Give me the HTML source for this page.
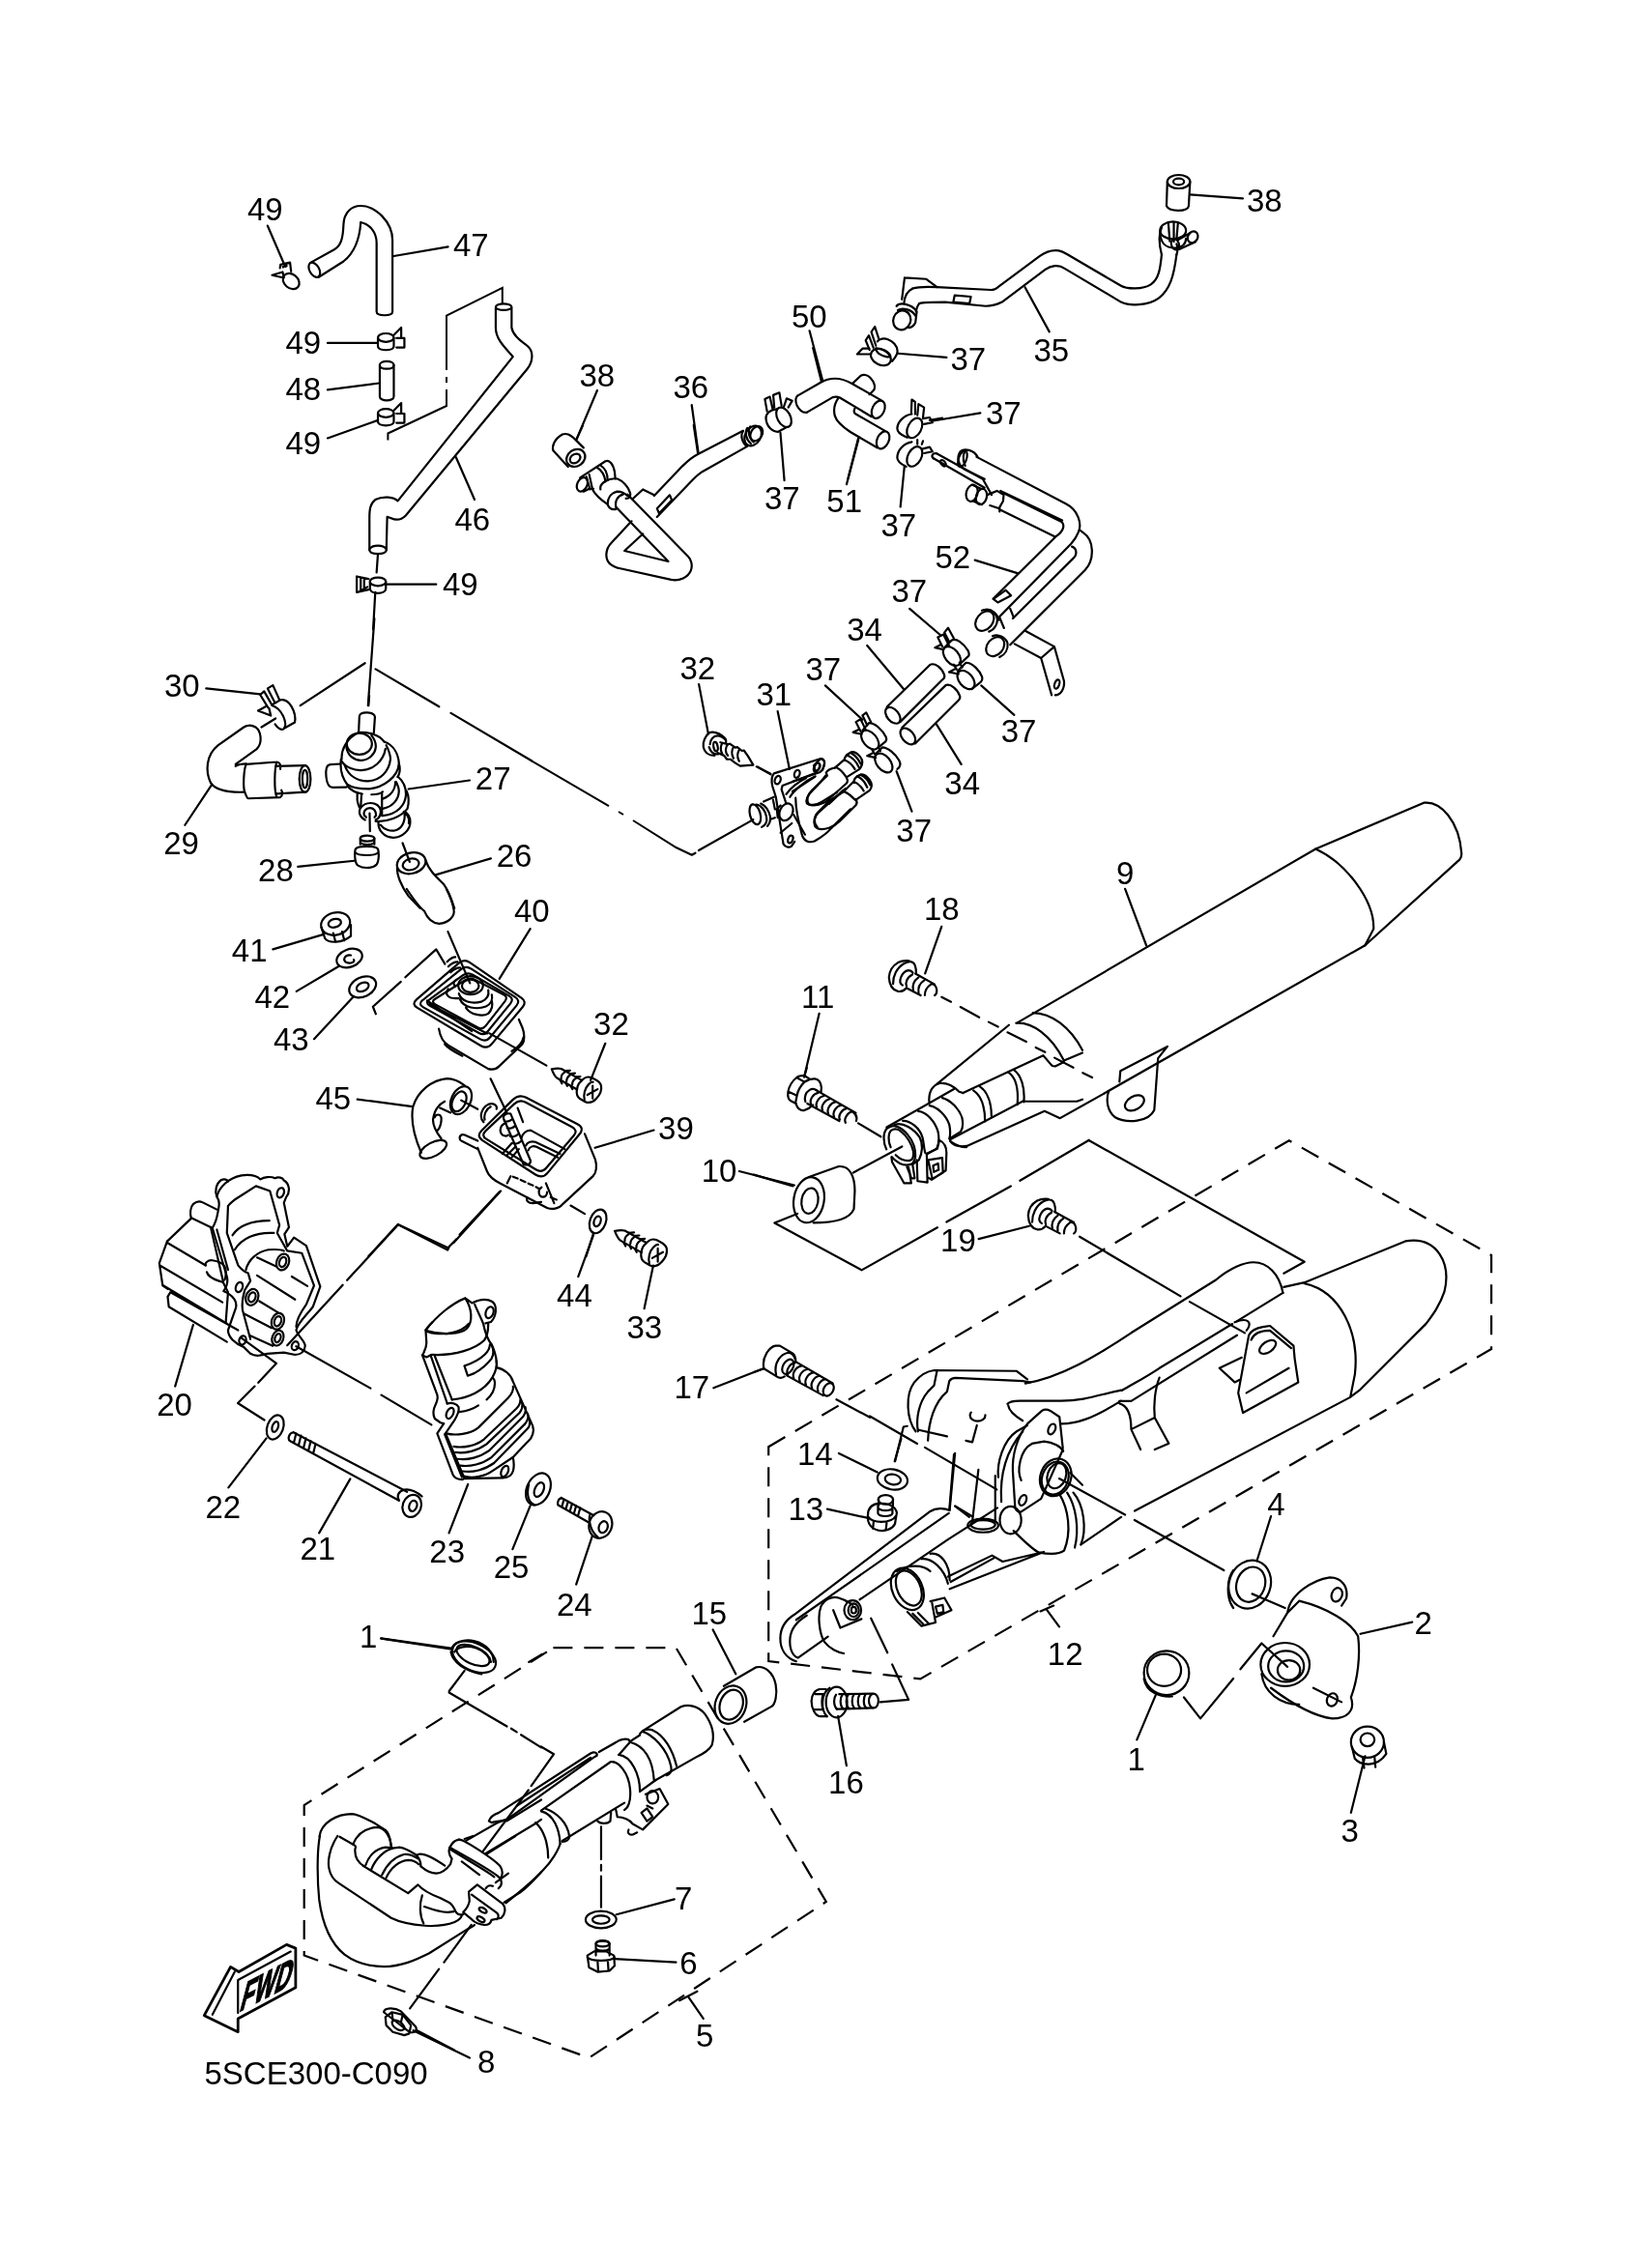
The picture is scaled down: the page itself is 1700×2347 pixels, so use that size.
<!DOCTYPE html>
<html><head><meta charset="utf-8">
<style>
html,body{margin:0;padding:0;background:#fff;}
svg{display:block;will-change:transform;}
text{font-family:"Liberation Sans",sans-serif;font-size:33px;fill:#000;}
.l path,.l ellipse,.l line,.l polyline,.l circle,.l rect{fill:none;stroke:#000;stroke-width:2.2;vector-effect:non-scaling-stroke;stroke-linejoin:round;stroke-linecap:round;}
.l .w{fill:#fff;}
.dd{fill:none;stroke:#000;stroke-width:2;stroke-dasharray:44 8 6 8;}
.cl{fill:none;stroke:#000;stroke-width:2;}
.ds{fill:none;stroke:#000;stroke-width:2.2;stroke-dasharray:20 12;}
</style></head>
<body>
<svg width="1700" height="2347" viewBox="0 0 1700 2347" xmlns="http://www.w3.org/2000/svg">
<!--rA.svg-->

<g class="l" transform="translate(150,150) scale(0.27390)">
<path d="M625,445 L715,395 C740,380 748,355 750,300 C752,255 780,230 815,230 C870,230 935,290 935,360 L935,630 C935,648 875,648 875,630 L875,370 C875,330 850,300 815,292 C812,340 800,400 750,440 L655,500"/>
<ellipse cx="640" cy="472" rx="18" ry="30" transform="rotate(-30 640 472)"/>
<path d="M463,305 L530,460"/>
<ellipse cx="552" cy="515" rx="34" ry="26" transform="rotate(40 552 515)"/>
<path d="M510,465 L512,452 L548,444 L552,478 M522,462 L520,450 M535,458 L533,447 M480,492 L520,480 L525,502 Z"/>
<path d="M940,420 L1145,385"/>
<path d="M690,748 L880,748"/>
<ellipse cx="910" cy="728" rx="30" ry="16"/><path d="M880,728 L880,760 C880,780 940,780 940,760 L940,728 M940,718 L968,690 L968,730 M950,730 L980,730 L980,765 L950,765"/>
<rect x="887" y="817" width="53" height="148" rx="26" ry="14"/><path d="M887,832 C887,850 940,850 940,832"/>
<path d="M690,925 L885,900"/>
<ellipse cx="910" cy="1013" rx="30" ry="16"/><path d="M880,1013 L880,1045 C880,1065 940,1065 940,1045 L940,1013 M940,1003 L968,975 L968,1015 M950,1015 L980,1015 L980,1050 L950,1050"/>
<path d="M690,1108 L880,1040"/>
<path d="M1325,615 L1325,690 C1325,735 1360,765 1390,800 L955,1345 C940,1330 900,1325 870,1340 C850,1355 848,1380 848,1410 L848,1530"/>
<path d="M1385,615 L1385,690 C1390,720 1420,740 1445,760 C1470,780 1465,820 1445,845 L985,1400 C970,1415 950,1420 930,1410 L915,1405 L912,1530"/>
<ellipse cx="1355" cy="612" rx="30" ry="12"/>
<path d="M848,1530 C848,1550 912,1550 912,1530 M850,1525 C860,1510 900,1510 910,1525"/>
<path d="M1175,1180 L1245,1340"/>
<ellipse cx="880" cy="1650" rx="30" ry="16"/><path d="M850,1650 L850,1675 C850,1700 910,1700 910,1675 L910,1650 M845,1640 L800,1630 L800,1690 L845,1680 M815,1635 L815,1685 M828,1637 L828,1683 M805,1690 L840,1670"/>
<path d="M910,1660 L1100,1660"/>
<path d="M880,1545 L875,1615 M870,1690 L862,1830"/>
</g>
<path class="cl" d="M401.4,455.4 L401.4,448.5 L462,420 L462,403 M462,396 L462,390 M462,383 L462,326.7 L519.8,297.9 L519.8,314"/>
<text x="256" y="228">49</text>
<text x="469" y="265">47</text>
<text x="295.5" y="366">49</text>
<text x="295.5" y="414">48</text>
<text x="295.5" y="470">49</text>
<text x="470.5" y="548.5">46</text>
<text x="458" y="615.6">49</text>

<!--rB.svg-->

<g class="l" transform="translate(550,330) scale(0.27390)">
<path d="M248,270 L170,455"/>
<path d="M605,325 L630,505"/>
<path d="M940,430 L955,610"/>
<path d="M1050,45 L1100,235"/>
<path d="M1235,455 L1190,625"/>
</g>
<text x="599.5" y="399.8">38</text>
<text x="696.5" y="412">36</text>
<text x="791" y="527">37</text>
<text x="855.3" y="530">51</text>
<text x="911.5" y="554.6">37</text>
<text x="967.5" y="587.5">52</text>
<text x="922.5" y="623">37</text>
<text x="819" y="339.4">50</text>

<!--rC.svg-->

<g class="l" transform="translate(880,160) scale(0.27995)">
<ellipse cx="1213" cy="100" rx="42" ry="25"/><ellipse cx="1213" cy="100" rx="20" ry="12"/>
<path d="M1171,100 L1168,190 C1180,212 1245,212 1250,190 L1255,100"/>
<path d="M1255,148 L1450,162"/>
<path d="M230,495 C245,490 280,488 320,490 L520,500 C530,500 540,495 545,490 L700,375 C720,360 745,352 770,355 C780,357 790,362 800,368 L1000,485 C1020,497 1080,500 1110,480 C1140,460 1145,420 1150,370"/>
<path d="M255,550 C270,545 320,545 350,545 L500,560 C530,560 550,550 560,545 L720,425 C740,410 770,405 790,420 L1000,545 C1030,560 1100,560 1140,530 C1180,500 1195,450 1205,370"/>
<path d="M230,495 C210,505 200,525 198,548 M255,550 C250,555 245,565 242,580"/>
<ellipse cx="190" cy="612" rx="32" ry="36" transform="rotate(20 190 612)"/>
<path d="M170,560 C180,545 225,550 245,580 L240,620 C235,635 220,640 215,640 M175,575 C190,565 225,570 240,595"/>
<path d="M200,455 L280,460 L320,490 M200,455 L190,535"/>
<path d="M385,520 L445,525 L440,550 L380,545 Z"/>
<path d="M1150,370 C1140,330 1140,290 1150,270 M1205,370 C1210,355 1210,340 1205,330"/>
<ellipse cx="1192" cy="280" rx="48" ry="32"/>
<path d="M1144,285 C1145,330 1165,345 1200,345 C1225,345 1240,330 1240,310 M1175,255 L1180,320 M1195,252 L1195,322 M1210,255 L1205,315"/>
<ellipse cx="1265" cy="305" rx="18" ry="22" transform="rotate(30 1265 305)"/>
<ellipse cx="1200" cy="332" rx="14" ry="20" transform="rotate(-20 1200 332)"/>
<path d="M1210,315 L1255,290 M1215,350 L1275,322"/>
<path d="M645,490 L735,655"/>
<path d="M175,735 L355,750"/>
<path d="M300,985 L480,955"/>
</g>
<text x="1290" y="218.8">38</text>
<text x="1069.5" y="374.2">35</text>
<text x="983.5" y="382.6">37</text>
<text x="1020" y="438.6">37</text>

<!--rD.svg-->
<g class="l" transform="translate(880,440) scale(0.18258)">
<path d="M715,180 L1220,445 C1290,480 1315,560 1290,610 C1280,635 1265,655 1250,672 L845,1085"/>
<path d="M655,255 L760,305 M850,372 L1200,540 M856,380 L1196,548 C1215,565 1210,600 1165,630 L808,985"/>
<path d="M720,180 C700,140 645,128 622,150 C600,180 610,232 650,252 M660,140 C640,150 630,190 650,230"/>
<ellipse cx="635" cy="190" rx="22" ry="48" transform="rotate(20 635 190)"/>
<path d="M845,478 L1160,632"/>
<path d="M1300,595 L1320,610 C1380,650 1385,760 1330,820 L905,1245"/>
<path d="M1255,688 C1285,700 1285,735 1262,755 L920,1095"/>
<ellipse cx="688" cy="385" rx="32" ry="48" transform="rotate(15 688 385)"/>
<ellipse cx="742" cy="405" rx="30" ry="45" transform="rotate(15 742 405)"/>
<path d="M690,338 L740,360 M700,432 L745,450 M775,395 L830,372 L868,395 L865,430 L845,465 L845,490 M790,455 L835,470"/>
<path d="M488,160 L750,305 L800,395 M470,188 L760,355"/>
<path d="M470,188 C455,175 465,155 488,160"/>
<ellipse cx="525" cy="215" rx="12" ry="20" transform="rotate(-40 525 215)"/>
<path d="M705,765 L950,840"/>
<path d="M810,985 L880,935 L910,965 L835,1005 Z"/>
<ellipse cx="760" cy="1110" rx="45" ry="62" transform="rotate(40 760 1110)"/>
<path d="M745,1050 C780,1035 820,1060 830,1090 C838,1125 815,1160 785,1170 M765,1045 C800,1040 835,1070 840,1105"/>
<ellipse cx="820" cy="1255" rx="45" ry="60" transform="rotate(40 820 1255)"/>
<path d="M805,1195 C840,1180 880,1205 890,1235 C895,1270 875,1300 845,1315"/>
<path d="M845,1090 L870,1150 M905,1040 L925,1090"/>
<path d="M930,1240 L1080,1320 L1155,1255 L990,1165 M1080,1320 L1140,1530 M1155,1255 L1210,1450 C1215,1495 1190,1530 1160,1530"/>
<ellipse cx="1170" cy="1468" rx="13" ry="26" transform="rotate(20 1170 1468)"/>
</g>

<!--rE.svg-->
<g class="l" transform="translate(700,640) scale(0.24346)">
<path d="M810,115 L965,300 M95,280 L135,490 M430,395 L480,640 M632,285 L790,430 M1295,285 L1435,410 M1105,450 L1210,620 M935,650 L1000,820"/>
<path d="M340,630 L400,660" />
<path d="M80,997 L65,1005 L0,975"/>
</g>
<text x="876.2" y="663.1">34</text>
<text x="703.4" y="702.8">32</text>
<text x="782.5" y="730.1">31</text>
<text x="833.5" y="703.8">37</text>
<text x="1035.7" y="768.3">37</text>
<text x="977.3" y="822">34</text>
<text x="927.3" y="870.8">37</text>

<!--rF.svg-->
<g class="l" transform="translate(150,640) scale(0.24346)">
<path d="M260,297 L490,322 M170,878 L285,705 M650,1055 L890,1030 M1120,725 L1380,688 M1235,1090 L1470,1020"/>
<path d="M975,0 L948,370 M660,370 L935,190 M980,215 L1250,375 M1300,402 L1643,605 M495,462 L555,425 M1095,955 L1125,1035"/>
<path d="M385,620 L475,555 C500,530 495,480 470,462 C450,450 430,455 420,462 L310,540 C260,580 255,650 280,700 C300,730 350,740 420,738 M385,628 C395,622 410,618 430,618"/>
<path d="M430,620 L560,610 C575,612 578,625 575,640 M440,765 L575,760 C585,755 585,740 580,730 M430,620 C420,640 415,720 425,740 C430,755 435,765 440,765 M560,610 C550,640 548,730 560,760 M555,628 L680,625 M560,745 L682,738"/>
<ellipse cx="680" cy="682" rx="24" ry="57"/>
<ellipse cx="680" cy="682" rx="11" ry="38"/>
<ellipse cx="945" cy="935" rx="30" ry="12"/>
<path d="M915,935 L915,960 M975,935 L975,960 M915,950 C920,965 970,965 975,950 M895,980 C890,990 890,1040 905,1050 C930,1065 970,1062 985,1045 C995,1030 995,995 990,980 C980,965 905,965 895,980 Z M895,995 C905,1010 980,1010 990,995"/>
<ellipse cx="1132" cy="1040" rx="62" ry="44" transform="rotate(-15 1132 1040)"/>
<ellipse cx="1130" cy="1045" rx="35" ry="24" transform="rotate(-15 1130 1045)"/>
<path d="M1072,1060 C1070,1090 1090,1140 1120,1180 L1170,1232 M1192,1025 C1205,1070 1240,1100 1270,1130 C1295,1165 1305,1200 1315,1232"/>
</g>
<text x="170" y="720.8">30</text>
<text x="169.2" y="884.2">29</text>
<text x="267.1" y="911.5">28</text>
<text x="491.8" y="816.5">27</text>
<text x="513.7" y="896.8">26</text>

<!--rG.svg-->
<g class="l" transform="translate(220,920) scale(0.30432)">
<path d="M205,205 L375,155 M285,348 L430,262 M345,510 L480,365 M1080,135 L975,305 M1335,525 L1285,650 M492,715 L680,740 M1500,820 L1300,880"/>
<ellipse cx="418" cy="118" rx="50" ry="38" transform="rotate(-15 418 118)"/>
<ellipse cx="415" cy="116" rx="22" ry="14" transform="rotate(-15 415 116)"/>
<path d="M370,130 L382,168 C395,185 440,185 470,160 L470,122 M410,150 L418,180 M440,145 L448,175"/>
<ellipse cx="465" cy="235" rx="45" ry="30" transform="rotate(-20 465 235)"/>
<path d="M470,225 C450,222 440,240 455,250 C470,255 485,248 480,240"/>
<ellipse cx="510" cy="333" rx="48" ry="33" transform="rotate(-25 510 333)"/>
<ellipse cx="510" cy="333" rx="22" ry="14" transform="rotate(-25 510 333)"/>
<path d="M660,0 C680,30 700,60 720,75 C730,100 745,115 770,118 C800,115 825,95 820,70 C815,40 805,20 795,0"/>
<path d="M555,425 L545,400 L640,315 M655,300 L760,205 L790,255 M800,145 L875,320"/>
<path d="M940,490 L1135,600"/>
<path d="M945,645 L1000,760"/>
<path d="M975,1030 L840,1175 M830,1190 L800,1220 L630,1140 L530,1249"/>
<ellipse cx="1310" cy="1130" rx="27" ry="42" transform="rotate(20 1310 1130)"/>
<ellipse cx="1308" cy="1130" rx="11" ry="18" transform="rotate(20 1308 1130)"/>
<path d="M1295,1170 L1270,1249"/>
</g>
<text x="239.8" y="994.6">41</text>
<text x="263.5" y="1043.2">42</text>
<text x="283" y="1087.4">43</text>
<text x="532" y="953.5">40</text>
<text x="614.1" y="1070.6">32</text>
<text x="326.5" y="1148.2">45</text>
<text x="681.1" y="1178.7">39</text>

<!--rH.svg-->
<g class="l" transform="translate(150,1200) scale(0.24954)">
<path d="M125,940 L200,685"/>
<path d="M590,770 L820,520 M838,500 L1050,270 L1255,375 L1260,365 M1280,345 L1475,130 M400,740 L545,845 L470,925 M455,940 L385,1010 L495,1080"/>
<ellipse cx="540" cy="1110" rx="33" ry="52" transform="rotate(20 540 1110)"/>
<ellipse cx="540" cy="1108" rx="12" ry="22" transform="rotate(20 540 1108)"/>
</g>
<text x="162.2" y="1464.5">20</text>

<!--rI.svg-->
<g class="l" transform="translate(200,1340) scale(0.27998)">
<path d="M270,530 L130,712 M580,680 L465,880 M1015,700 L945,880 M1245,780 L1180,940 M1475,890 L1415,1070 M695,1270 L955,1310"/>
<path d="M370,508 L790,728 M358,540 L760,760 M370,508 C352,510 348,535 358,540 M380,512 L372,545 M398,520 L390,553 M416,530 L408,563 M434,540 L426,573 M452,550 L444,583"/>
<path d="M760,760 C750,740 760,725 780,720 C800,715 830,730 845,745"/>
<ellipse cx="808" cy="780" rx="34" ry="42" transform="rotate(20 808 780)"/>
<ellipse cx="812" cy="780" rx="14" ry="20" transform="rotate(20 812 780)"/>
<ellipse cx="1275" cy="718" rx="42" ry="62" transform="rotate(25 1275 718)"/>
<ellipse cx="1278" cy="720" rx="16" ry="28" transform="rotate(25 1278 720)"/>
<path d="M1240,700 C1230,740 1240,770 1260,775"/>
<path d="M1360,750 L1480,815 M1350,778 L1460,840 M1360,750 C1345,755 1345,775 1350,778 M1370,755 L1362,783 M1385,763 L1377,791 M1400,771 L1392,799 M1415,779 L1407,807 M1430,787 L1422,815"/>
<ellipse cx="1505" cy="850" rx="42" ry="50" transform="rotate(20 1505 850)"/>
<ellipse cx="1515" cy="858" rx="16" ry="22" transform="rotate(20 1515 858)"/>
<path d="M1465,815 C1460,840 1470,875 1495,895"/>
<path d="M860,130 C900,75 960,30 1005,12 L1030,30 C1050,20 1080,10 1105,25 C1125,40 1120,80 1100,100 L1080,105 M1005,12 C1030,50 1035,100 1010,125 C990,145 920,150 862,132"/>
<ellipse cx="1095" cy="65" rx="14" ry="22" transform="rotate(20 1095 65)"/>
<path d="M380,190 L655,345 M695,370 L880,480"/>
<path d="M955,1310 C960,1285 1000,1270 1040,1280 C1080,1290 1110,1320 1110,1357 M965,1320 C975,1300 1010,1295 1045,1305 C1075,1315 1095,1335 1100,1357"/>
<path d="M1290,1328 L1240,1357"/>
</g>
<text x="212.5" y="1571">22</text>
<text x="310.5" y="1614.4">21</text>
<text x="444.3" y="1617.2">23</text>
<text x="510.7" y="1632.6">25</text>
<text x="575.9" y="1671.8">24</text>

<!--rJ.svg-->
<g class="l" transform="translate(760,820) scale(0.48691)">
<path d="M830,205 L875,325 M440,285 L405,385 M180,470 L148,605"/>
<path d="M600,490 L1235,120 L1465,22 C1500,18 1540,60 1545,130 C1545,140 1540,145 1535,148 L1340,325 L785,640"/>
<path d="M1235,120 C1300,150 1360,230 1358,290 L1340,325"/>
<path d="M820,592 L920,540 L900,565 L892,675 C880,700 835,705 808,690 C790,675 790,650 795,635 M820,592 L818,615"/>
<ellipse cx="850" cy="660" rx="22" ry="14" transform="rotate(-30 850 660)"/>
<path d="M440,435 L460,445 M480,456 L520,478 M540,488 L560,498 M580,510 L620,530 M640,542 L660,552 M680,564 L720,585 M740,596 L760,606"/>
</g>
<text x="1154.9" y="915">9</text>
<text x="956" y="951.5">18</text>
<text x="829" y="1042.5">11</text>

<!--rK.svg-->
<g class="l" transform="translate(780,1180) scale(0.47474)">
<path d="M490,215 L600,187 M0,75 L85,100"/>
<ellipse cx="120" cy="130" rx="33" ry="50" transform="rotate(10 120 130)"/>
<ellipse cx="122" cy="132" rx="18" ry="28" transform="rotate(10 122 132)"/>
<path d="M120,80 L185,57 C210,55 220,80 220,110 L218,150 C210,170 180,180 130,180"/>
<path d="M95,160 L45,180 L235,283 L400,190 M420,178 L560,100 M580,88 L730,0"/>
<path d="M730,0 L1200,265 L1155,290 M710,210 L930,340 M950,352 L1070,420 M180,565 L253,604"/>
<path d="M1155,320 L1200,310 L1420,220 C1490,208 1520,270 1505,330 C1495,360 1480,380 1465,400 L1320,545 M1200,312 C1280,330 1320,420 1310,510 L1300,560 L830,808 M1320,545 L1300,560"/>
</g>
<text x="973.1" y="1295.4">19</text>
<text x="825" y="1515.6">14</text>
<text x="815.5" y="1572.6">13</text>
<text x="1311.2" y="1567.9">4</text>

<!--rL.svg-->
<g class="l" transform="translate(760,1440) scale(0.48691)">
<path d="M1140,265 L1110,360 M1440,490 L1330,515 M855,740 L895,645 M238,795 L220,690 M1310,895 L1340,775 M690,500 L662,462 M650,467 L678,455"/>
<ellipse cx="1095" cy="410" rx="44" ry="52" transform="rotate(20 1095 410)"/>
<ellipse cx="1097" cy="410" rx="30" ry="38" transform="rotate(20 1097 410)"/>
<path d="M1060,380 C1045,400 1045,440 1060,460"/>
<ellipse cx="918" cy="598" rx="48" ry="47"/>
<ellipse cx="913" cy="592" rx="36" ry="34"/>
<path d="M870,610 C875,640 905,650 930,648"/>
<path d="M1175,470 C1180,430 1230,400 1265,395 C1290,395 1305,415 1300,440 L1290,455 M1200,445 C1260,460 1310,490 1325,520 C1330,560 1325,610 1310,650 C1320,680 1300,695 1270,695 C1230,690 1180,660 1140,630 M1200,445 L1175,470 L1145,520"/>
<ellipse cx="1280" cy="432" rx="11" ry="15" transform="rotate(20 1280 432)"/>
<ellipse cx="1270" cy="655" rx="11" ry="14" transform="rotate(20 1270 655)"/>
<ellipse cx="1170" cy="580" rx="52" ry="46"/>
<ellipse cx="1172" cy="584" rx="38" ry="33"/>
<ellipse cx="1178" cy="592" rx="24" ry="21"/>
<path d="M1120,600 C1125,640 1160,665 1200,665 M1230,630 L1290,660"/>
<ellipse cx="1345" cy="745" rx="35" ry="33"/>
<ellipse cx="1345" cy="740" rx="15" ry="14"/>
<path d="M1312,755 L1318,780 C1330,795 1365,800 1385,770 L1380,745 M1335,778 L1338,800 M1360,776 L1362,798"/>
<path d="M310,660 L370,655 L335,580 M325,555 L290,482"/>
<path d="M690,185 L830,262 M850,273 L1040,380 M1100,430 L1170,460 M955,650 L990,695 L1060,610 M1075,590 L1120,535 L1175,585"/>
</g>
<g class="l" transform="translate(760,1420) scale(0.14993)">
<path d="M720,560 L985,690 M640,945 L915,1005 M1105,615 L1150,460"/>
<ellipse cx="1090" cy="740" rx="105" ry="70" transform="rotate(10 1090 740)"/>
<ellipse cx="1093" cy="740" rx="55" ry="35" transform="rotate(10 1093 740)"/>
<path d="M920,990 C915,1040 940,1090 1020,1095 C1080,1090 1110,1060 1110,1030 L1120,970 C1110,920 1050,905 1000,905 C950,910 920,940 920,990 Z M925,1000 C940,1040 1080,1050 1115,990 M960,1030 L955,1080 M1050,1040 L1045,1085"/>
<path d="M990,920 L990,975 C1000,1000 1080,1000 1090,975 L1090,920 M995,940 C1010,960 1075,960 1090,940"/>
<ellipse cx="1043" cy="880" rx="52" ry="32"/>
<path d="M995,880 L995,920 M1093,880 L1093,920"/>
</g>
<text x="1083.8" y="1723.4">12</text>
<text x="1463.5" y="1690.8">2</text>
<text x="1166.5" y="1832">1</text>
<text x="857.1" y="1856.3">16</text>

<!--rO.svg-->
<g class="l" transform="translate(1000,1260) scale(0.24346)">
<path d="M250,705 C400,680 550,590 700,490 L1060,265 C1120,215 1180,190 1220,190 C1280,190 1330,240 1345,320"/>
<path d="M1345,320 L1150,440 M1130,452 L820,640 C760,680 720,700 660,735"/>
<path d="M650,780 L700,780 L1150,500"/>
<path d="M1175,830 L1155,745 L1200,500 C1210,480 1230,470 1260,465 L1290,460 L1390,545 L1395,600 L1410,700 Z M1190,745 L1370,640 M1210,520 C1220,495 1250,480 1290,480 L1380,555"/>
<ellipse cx="1280" cy="550" rx="40" ry="22" transform="rotate(-35 1280 550)"/>
<path d="M1075,640 L1170,595 M1075,640 L1140,700 L1160,690"/>
<path d="M1140,445 C1200,420 1215,450 1190,480"/>
<path d="M650,790 C690,800 700,850 700,900 L740,986 M820,680 C800,730 795,800 800,850 L860,960 L800,986 M700,900 L800,850"/>
</g>
<g class="l" transform="translate(900,1380) scale(0.15825)">
<path d="M300,640 C240,560 230,400 290,320 C330,270 380,245 420,240 L960,245 L1030,300"/>
<path d="M315,640 C300,560 320,450 380,380 L420,340 L440,240"/>
<path d="M380,700 C385,580 420,450 505,380 L520,310 C530,295 540,290 560,290 L1000,310 C1020,315 1035,320 1050,318"/>
<path d="M900,460 C920,440 950,440 980,440 L1250,440 C1400,440 1500,400 1643,370"/>
<path d="M1000,570 C950,540 910,510 905,470"/>
<path d="M1250,590 C1350,590 1450,560 1643,440"/>
<path d="M1030,590 L1125,505 C1140,495 1160,495 1180,505 L1240,545 L1262,750 M1262,760 L1120,1080 L990,1165 C970,1170 955,1155 950,1140 L935,900 C930,800 960,680 1030,590"/>
<ellipse cx="1190" cy="625" rx="22" ry="36" transform="rotate(25 1190 625)"/>
<ellipse cx="1000" cy="1090" rx="22" ry="36" transform="rotate(25 1000 1090)"/>
<path d="M990,960 C960,900 980,760 1060,720 L1140,705 C1200,710 1250,740 1265,770"/>
<ellipse cx="1215" cy="940" rx="100" ry="125" transform="rotate(20 1215 940)"/>
<ellipse cx="1212" cy="945" rx="85" ry="110" transform="rotate(20 1212 945)"/>
<ellipse cx="1222" cy="930" rx="60" ry="85" transform="rotate(20 1222 930)"/>
<path d="M840,940 C830,850 870,700 960,640 L1030,600 M860,1100 C850,950 880,780 1000,640"/>
<path d="M1240,1050 C1300,1150 1320,1300 1270,1420 C1230,1450 1150,1440 1100,1430 M1290,1040 C1350,1130 1370,1280 1340,1400 M1330,1040 C1400,1120 1420,1280 1380,1380 M1310,910 L1390,990"/>
<path d="M1380,1380 L1643,1200 M940,1290 C980,1330 1050,1400 1100,1430"/>
<path d="M670,1230 L710,890 M820,1230 L820,930"/>
<ellipse cx="740" cy="1255" rx="100" ry="45"/>
<ellipse cx="740" cy="1250" rx="80" ry="30"/>
<ellipse cx="920" cy="1220" rx="70" ry="90"/>
<path d="M520,1150 L550,790 M560,1130 L650,1200"/>
<path d="M0,540 L310,720 M360,745 L830,1020"/>
<path d="M220,610 L245,605 M220,610 L165,835"/>
<path d="M320,630 L670,710 L700,600" stroke-dasharray="30 20" style="stroke-dasharray:30 20"/>
<ellipse cx="705" cy="535" rx="50" ry="38" style="stroke-dasharray:25 18"/>
</g>

<!--rP.svg-->
<g class="l" transform="translate(290,1660) scale(0.35301)">
<path d="M295,100 L505,130 M1268,75 L1335,205 M1155,865 L985,910 M1160,1050 L980,1040 M1240,1215 L1195,1150 M1170,1162 L1222,1135 M555,1330 L390,1250"/>
<path d="M540,195 L495,255 M560,940 L480,1050 M465,1070 L380,1185"/>
<ellipse cx="568" cy="155" rx="68" ry="40" transform="rotate(25 568 155)"/>
<ellipse cx="565" cy="150" rx="52" ry="25" transform="rotate(25 565 150)"/>
<path d="M500,140 C505,170 540,195 590,205"/>
<ellipse cx="1320" cy="295" rx="45" ry="57" transform="rotate(20 1320 295)"/>
<ellipse cx="1322" cy="295" rx="33" ry="45" transform="rotate(20 1322 295)"/>
<path d="M1300,240 L1395,185 C1420,180 1445,200 1452,235 C1458,265 1450,295 1440,300 L1360,345"/>
<ellipse cx="940" cy="925" rx="45" ry="25"/>
<ellipse cx="940" cy="925" rx="25" ry="12"/>
<path d="M900,1030 L905,1065 L930,1078 L965,1075 L980,1060 L978,1030 L955,1018 L920,1018 Z M900,1035 C910,1048 970,1048 980,1035 M930,1045 L932,1078 M960,1045 L962,1075"/>
<path d="M925,1030 L925,995 C930,985 960,985 965,995 L965,1030 M925,1010 C935,1018 955,1018 965,1010"/>
<ellipse cx="945" cy="995" rx="20" ry="9"/>
</g>
<path class="ds" d="M572.4,1705.2 L699.5,1705.2 L854.8,1968 L609.5,2129.5 L314.7,2023.6 L314.7,1868 Z"/>
<text x="715.5" y="1681.4">15</text>
<text x="698" y="1976">7</text>
<text x="703.3" y="2043">6</text>
<text x="719.9" y="2118.2">5</text>
<text x="494" y="2145.4">8</text>
<text x="372" y="1704.8">1</text>

<!--rQ.svg-->
<g class="l" transform="translate(190,1980) scale(0.17042)">
<path d="M125,620 L285,325 L335,355 L625,190 L680,212 L680,450 L330,640 L330,720 Z" style="stroke-width:2.8"/>
<path d="M175,615 L310,355 M330,405 L650,232 M330,405 L330,605" />
<path d="M1215,600 C1220,570 1280,570 1320,595 L1410,690 C1420,715 1400,730 1370,720 Z"/>
<path d="M1225,630 L1265,600 L1330,615 L1380,680 L1370,730 L1340,740 L1270,720 L1230,680 Z M1265,660 C1280,640 1320,650 1340,690 C1345,710 1320,715 1300,705 C1280,695 1265,680 1265,660 Z M1265,600 L1270,650 M1330,615 L1320,660"/>
<path d="M1415,710 L1643,830"/>
</g>
<text transform="translate(247,2082) skewY(-27.4) skewX(-17) scale(0.6,1)" style="font-weight:bold;font-size:38px;stroke:#000;stroke-width:1.6">FWD</text>
<text x="211.5" y="2157.2">5SCE300-C090</text>

<!--rR.svg-->
<g class="l" transform="translate(560,1140) scale(0.20694)">
<path d="M990,348 L1265,418 M260,670 L185,875 M560,820 L515,1035 M862,1432 L1110,1335"/>
</g>
<path class="cl" d="M550,787.3 L630,834.2 M640,840 L645,843 M655,849 L700,877.4"/>
<g class="l" transform="translate(880,440) scale(0.18258)">
<path d="M335,1040 L510,1190"/>
</g>
<text x="725.7" y="1222.8">10</text>
<text x="576.1" y="1352.1">44</text>
<text x="648.5" y="1385.2">33</text>
<text x="697.5" y="1447.3">17</text>
<text x="1387.4" y="1906.4">3</text>

<!--rS.svg-->
<g class="l" transform="translate(560,440) scale(0.14607)">
<path d="M1430,40 L1110,205 C1060,230 1030,260 1000,290 L800,500 M640,680 L500,830 C450,880 450,950 490,985 C510,1000 530,1010 560,1015 L920,1095 C980,1105 1040,1080 1060,1030 C1075,990 1060,950 1040,930 L610,490"/>
<path d="M1460,150 L1140,330 C1110,350 1090,370 1070,390 L820,650 M720,770 L590,890 L900,965 L530,580"/>
<ellipse cx="1500" cy="75" rx="55" ry="75" transform="rotate(30 1500 75)"/>
<ellipse cx="1525" cy="60" rx="40" ry="55" transform="rotate(30 1525 60)"/>
<path d="M1430,40 C1410,70 1420,120 1455,150 M1460,20 C1440,50 1450,100 1485,130 M1480,10 C1460,40 1470,90 1505,120"/>
<path d="M650,520 L720,455 L800,495 M820,590 L910,495 L925,530 L835,625 Z"/>
<ellipse cx="290" cy="420" rx="35" ry="52" transform="rotate(25 290 420)"/>
<path d="M275,372 L455,255 C485,245 510,275 520,330 L525,380 M300,470 L340,450 L370,450 M340,350 L360,440 M320,365 L345,455 M395,300 C430,320 450,360 455,400 M420,285 C455,305 470,345 470,390"/>
<path d="M360,450 C380,490 410,520 470,560 M420,455 C410,410 480,370 540,380 C580,395 620,440 630,480 C635,505 625,520 600,520"/>
<path d="M470,560 C470,520 490,480 540,470 C575,470 600,490 610,500 M470,560 C480,590 500,600 530,595 M530,580 C520,540 540,500 580,490"/>
<ellipse cx="245" cy="232" rx="70" ry="58" transform="rotate(-35 245 232)"/>
<ellipse cx="240" cy="236" rx="40" ry="30" transform="rotate(-35 240 236)"/>
<path d="M85,180 C75,150 90,100 150,65 C180,55 200,65 240,100 L300,160 M85,180 L190,295"/>
<path d="M250,100 L295,0 M1110,200 L1080,0"/>
</g>

<!--rSC.svg-->
<defs>
<g id="scr" class="l">
<path d="M870,900 C860,1000 880,1100 960,1150 L1100,1230 C1200,1280 1320,1260 1420,1150 C1520,1050 1580,900 1560,780 C1540,700 1480,650 1400,610 L1280,550 C1200,520 1100,540 1050,600 L1000,640"/>
<path d="M1090,1180 C1050,1050 1100,850 1200,750 C1260,690 1310,670 1330,680"/>
<path d="M1320,780 L1320,1140 M1170,1040 L1460,880"/>
<path d="M160,310 C250,290 350,280 430,300 L1000,620 M160,310 C200,420 260,530 320,570 L880,890"/>
<path d="M430,580 C420,500 460,440 530,400 M580,660 C580,580 620,520 680,480 M740,760 C740,680 780,610 850,570 M880,870 C890,780 930,700 1000,650"/>
<path d="M540,360 L680,350 M700,440 L820,430 M860,530 L970,520 M400,620 L450,720 M560,700 L600,790 M700,790 L750,880"/>
</g>
</defs>
<use href="#scr" transform="translate(565,1095) scale(0.036523)"/>
<use href="#scr" transform="translate(630,1262) scale(0.03835)"/>

<!--rT.svg-->
<g class="l" transform="translate(320,720) scale(0.073035)">
<path d="M700,510 L710,290 C720,220 920,220 930,300 L915,525"/>
<ellipse cx="710" cy="682" rx="178" ry="152"/>
<path d="M525,720 C540,850 640,920 740,915 C850,910 930,820 940,740 C950,680 920,610 880,560"/>
<path d="M460,900 C450,780 520,600 700,520 C850,510 1000,560 1060,650 M460,930 C520,1020 640,1060 740,1055 C900,1050 1050,930 1080,750"/>
<path d="M500,980 C560,1150 700,1210 830,1210 C1000,1200 1130,1080 1150,900 C1150,820 1120,760 1090,700 M1060,650 C1200,700 1260,830 1270,950"/>
<path d="M450,900 C430,1050 480,1180 540,1260 M530,1250 C600,1300 750,1320 850,1320 C1050,1300 1260,1150 1270,960 M1270,960 C1300,1050 1270,1130 1250,1150"/>
<path d="M445,965 L300,975 C240,980 230,1050 240,1150 C250,1250 280,1300 330,1300 L525,1295"/>
<path d="M540,1280 C580,1330 640,1370 750,1390 M880,1400 C950,1400 1020,1380 1040,1360 M680,1380 L680,1480 C690,1540 700,1560 710,1580 M740,1400 L730,1560 M1030,1370 L1030,1700"/>
<path d="M720,1600 C760,1540 820,1520 870,1520 C940,1520 1000,1560 1010,1620 C1020,1700 980,1740 940,1760 M720,1600 C700,1650 710,1720 790,1760"/>
<path d="M780,1700 C760,1640 800,1590 860,1590 C910,1590 950,1630 945,1700 M800,1710 L805,1725 M930,1710 L925,1725"/>
<path d="M1040,1460 C1150,1420 1220,1330 1220,1220 M1040,1600 C1200,1570 1270,1450 1270,1350 C1270,1300 1250,1260 1230,1220 M1040,1700 C1250,1680 1360,1550 1370,1400 C1370,1280 1320,1200 1260,1150 M940,1780 C1100,1790 1300,1720 1390,1600 C1420,1500 1410,1420 1380,1350"/>
<path d="M980,1790 C970,1900 1060,2010 1190,2010 C1320,2010 1430,1900 1430,1790 C1430,1700 1390,1660 1340,1640 M1010,1830 C1060,1900 1150,1920 1210,1910 C1300,1890 1360,1800 1350,1680 M1360,1660 C1400,1700 1420,1750 1410,1810"/>
<path d="M855,1665 L860,1920 M850,0 L840,140"/>
</g>

<!--rU.svg-->
<g class="l" transform="translate(320,1750) scale(0.14607)">
<path d="M72,1030 C85,930 200,870 300,870 C340,872 380,890 470,940 L540,985 C560,1000 575,1050 580,1100"/>
<path d="M310,1085 C340,1010 400,970 480,965 C540,970 575,1030 580,1100"/>
<path d="M1110,1060 L1320,940 C1360,920 1380,910 1400,920 L1643,770 M1250,1150 L1600,940 L1643,910"/>
<path d="M990,10 L1400,250 M1430,265 L1470,290 M1500,310 L1643,400"/>
</g>
<g class="l" transform="translate(500,1740) scale(0.14607)">
<path d="M410,462 L500,515 L340,740 M320,770 L0,1200"/>
<path d="M1130,350 L1400,180 C1450,160 1520,170 1570,230 C1620,300 1640,380 1620,450 C1600,490 1560,510 1520,530 L1220,700"/>
<path d="M1110,370 C1130,340 1170,335 1200,345 C1280,380 1340,480 1370,600 M1130,355 C1200,380 1300,470 1330,600 C1340,640 1320,660 1300,665"/>
<path d="M820,500 L960,420 C990,405 1030,405 1035,420 L1040,425 L1110,380"/>
<path d="M40,990 C50,960 80,940 110,930 L760,510 C790,495 810,505 805,525 L780,540 L180,970 C140,990 100,990 60,1000 Z M240,880 L760,540"/>
<path d="M410,915 L895,575 M960,520 L1040,430"/>
<path d="M900,570 C960,560 1030,650 1040,760 C1050,860 1020,900 1000,910 M960,520 C1050,530 1110,660 1110,780 M1040,430 C1150,460 1200,560 1210,700"/>
<path d="M560,1130 L1000,860 M1110,780 L1220,700"/>
<path d="M370,1000 C430,1050 460,1150 460,1250 M410,920 C500,940 540,1050 545,1150 M440,900 C520,930 600,1000 610,1100 C610,1120 590,1135 560,1135"/>
<path d="M545,1150 C530,1200 480,1280 430,1330 C350,1420 270,1480 160,1570"/>
<path d="M940,910 L950,960 C990,960 1040,980 1060,1010 L1130,1050 L1310,870 L1250,760 L1150,800 M1160,880 L1200,900 M1030,1050 C1020,1070 1030,1090 1060,1085 L1090,1070"/>
<ellipse cx="1200" cy="820" rx="40" ry="45"/>
<path d="M1120,930 L1160,900 L1200,960 L1160,990 Z"/>
<path d="M810,990 C830,1010 880,1010 900,990 L905,930"/>
<path d="M835,1030 L835,1260 M835,1300 L835,1340 M835,1380 L835,1600"/>
</g>
<g class="l" transform="translate(320,1900) scale(0.14607)">
<path d="M75,0 C55,100 55,300 70,450 C90,600 140,750 250,840 C330,900 430,925 530,925 C650,925 750,880 850,830 L1120,660 C1140,650 1160,640 1170,630"/>
<path d="M200,0 C140,90 130,180 140,230 C150,280 170,310 210,335 L580,580 C620,600 700,625 820,635 C900,640 980,630 1030,610 C1060,595 1080,580 1080,560"/>
<path d="M380,210 L700,405 L770,345 C800,380 850,410 930,440 L990,470 C1010,480 1020,500 1030,520 L1040,540 C1050,555 1070,560 1090,555"/>
<path d="M800,420 C780,480 780,560 810,620 M815,500 C870,520 930,540 980,540 L1025,535"/>
<path d="M215,5 L320,65 C330,70 330,80 325,90 C320,140 340,185 390,215"/>
<path d="M400,205 C420,140 470,90 540,80 C560,80 575,85 585,80 M440,235 C470,160 530,100 600,85 L640,80 C680,85 720,110 760,135 C780,160 790,190 790,210 M515,275 C550,200 600,150 670,130 C710,125 740,140 770,160 M545,295 C580,220 640,175 700,170 C740,170 760,185 775,200"/>
<path d="M770,130 C800,120 860,140 960,210 M790,215 C820,240 860,265 900,265 C940,265 970,240 1000,200 L1010,160 C990,140 985,100 995,80 C1010,50 1030,30 1060,25"/>
<path d="M995,80 C1100,140 1250,220 1330,280 C1370,310 1370,350 1340,370 M1000,95 C1100,160 1250,240 1310,290 M1060,25 C1100,25 1300,160 1350,210 C1370,240 1370,270 1360,290 M1080,180 L1205,275"/>
<path d="M1100,20 L1160,0 M1260,125 L1460,0"/>
<path d="M1320,330 L1410,265 M1300,355 C1280,345 1260,355 1250,370"/>
<path d="M1130,395 L1190,345 L1370,480 C1395,510 1390,550 1360,580 L1290,595 C1285,620 1270,630 1240,630 C1200,625 1170,610 1150,590 L1090,540 C1110,520 1130,490 1135,460 Z M1150,415 L1330,545 C1345,560 1340,580 1330,590"/>
<ellipse cx="1230" cy="525" rx="30" ry="15" transform="rotate(30 1230 525)"/>
<ellipse cx="1215" cy="590" rx="30" ry="15" transform="rotate(30 1215 590)"/>
<path d="M1380,470 L1500,395 C1560,350 1600,300 1643,255"/>
</g>

<!--rX.svg-->
<g class="l" transform="translate(255,700) scale(0.036523)">
<path d="M390,520 L500,420 L700,770 M390,520 L610,880 M600,340 L750,250 L930,650 M600,340 L800,730"/>
<path d="M330,970 L540,855 M330,970 L690,1110 L640,900"/>
<path d="M720,820 C820,850 960,960 1040,1120 C1110,1280 1120,1420 1060,1480 C1000,1530 900,1490 810,1350"/>
<path d="M720,800 C800,770 880,710 950,670 C1080,640 1200,720 1280,860 C1360,1000 1400,1150 1370,1300 L1090,1460"/>
</g>

<!--rZ.svg-->
<path class="ds" d="M795.2,1497.2 L1333.8,1180.2 L1543.1,1299 L1543.1,1396 L952.3,1737.4 L795.2,1719 Z"/>

<!--rZ1.svg-->
<g class="l" transform="translate(820,360) scale(0.073035)">
<path d="M70,680 L400,490 C460,455 530,435 600,435 C700,435 780,470 850,510 L1260,745"/>
<path d="M200,915 L570,700 C600,690 640,690 670,705 L1120,975"/>
<path d="M70,680 C40,700 40,760 60,810 C90,870 140,920 200,915"/>
<ellipse cx="1215" cy="873" rx="85" ry="132" transform="rotate(25 1215 873)"/>
<path d="M850,505 L960,400 C1000,370 1060,380 1100,420 C1160,480 1180,560 1150,600 L1090,660"/>
<path d="M290,0 L410,480"/>
</g>
<g class="l" transform="translate(785,395) scale(0.11564)">
<path d="M713,146 C681,190 669,253 681,304 C694,348 730,390 820,450 L1060,590"/>
<path d="M860,240 C850,260 850,280 870,290 L1130,440"/>
<ellipse cx="1112" cy="522" rx="52" ry="82" transform="rotate(25 1112 522)"/>
<path d="M890,510 L800,865"/>
<ellipse cx="225" cy="318" rx="58" ry="95" transform="rotate(-28 225 318)"/>
<path d="M160,245 C100,250 60,290 65,330 C70,400 120,450 175,448 L255,405"/>
<path d="M75,265 L55,155 L100,135 L125,245 M140,230 L130,120 L185,98 L205,215 M225,225 L250,150 L300,170 L265,230"/>
<path d="M1370,290 C1300,300 1240,360 1240,420 C1240,450 1260,470 1330,500"/>
<ellipse cx="1395" cy="415" rx="60" ry="95" transform="rotate(28 1395 415)"/>
<path d="M1365,280 L1370,160 L1400,180 L1400,290 M1420,300 L1430,200 L1480,230 L1470,320 M1470,330 L1530,320 L1555,365 L1480,380 M1530,345 L1643,325"/>
<path d="M1370,540 C1300,550 1240,610 1240,680 C1240,710 1260,730 1320,760"/>
<ellipse cx="1395" cy="670" rx="60" ry="95" transform="rotate(28 1395 670)"/>
<path d="M1420,560 L1420,520 M1460,560 L1470,530 M1470,600 L1530,585 L1555,625 L1480,640 M1305,750 L1268,1120"/>
</g>
<g class="l" transform="translate(880,330) scale(0.036523)">
<ellipse cx="860" cy="1085" rx="300" ry="215" transform="rotate(28 860 1085)"/>
<path d="M720,830 C900,820 1100,950 1130,1050 C1100,1100 950,1080 800,980 C740,930 720,880 720,830 Z"/>
<path d="M760,640 C820,560 950,540 1060,580 C1200,630 1320,760 1330,900 C1340,980 1300,1060 1180,1200"/>
<path d="M430,610 L520,470 L650,820 M430,610 L540,880 M590,370 L690,220 L800,560 M590,370 L720,760"/>
<path d="M190,1000 L340,840 L530,840 M190,1000 L560,1000"/>
</g>

<!--rZ10.svg-->
<g class="l" transform="translate(780,1480) scale(0.18258)">
<path d="M240,1310 C180,1290 150,1240 150,1180 C150,1110 190,1070 230,1045 L1000,460 C1030,440 1080,440 1110,455"/>
<path d="M240,1075 L1105,470"/>
<path d="M300,1050 C250,1080 210,1120 205,1180 C200,1240 220,1280 250,1290 L420,1170"/>
<path d="M600,960 L1100,620 L1380,440"/>
<path d="M810,800 C870,760 960,760 1000,800 M950,730 C1010,720 1080,790 1100,870 M1000,700 C1060,690 1110,760 1110,850"/>
<ellipse cx="870" cy="900" rx="85" ry="125" transform="rotate(-25 870 900)"/>
<ellipse cx="878" cy="895" rx="65" ry="105" transform="rotate(-25 878 895)"/>
<path d="M870,1030 L950,1110 L1030,1090 L1010,980 M1000,970 L1080,950 L1120,1020 L1030,1060 M1030,1000 L1070,990 L1075,1030 L1040,1040 Z M900,1040 L960,1100 M930,1035 L990,1095"/>
<ellipse cx="560" cy="1020" rx="48" ry="55"/>
<ellipse cx="565" cy="1020" rx="30" ry="38"/>
<ellipse cx="566" cy="1020" rx="14" ry="18"/>
<path d="M450,1020 L490,1120 L610,1070"/>
<path d="M380,1000 C360,1050 370,1150 400,1200 C430,1240 480,1260 510,1265 M380,1000 C400,960 440,940 480,950 C520,960 540,980 560,990"/>
<path d="M1140,130 L1110,450 M1140,430 L1240,490"/>
<path d="M1100,830 L1350,710 L1410,745 L1643,690 M1110,900 L1643,690 M1115,860 L1360,725"/>
</g>

<!--rZ11.svg-->
<g class="l" transform="translate(155,1210) scale(0.11564)">
<path d="M155,645 L370,440 M370,440 C360,400 360,340 390,310 C420,285 450,285 470,295 L600,360 M380,438 L545,518"/>
<path d="M155,645 L85,840 L115,1040 L160,1070 M160,660 L500,860 M90,860 L650,1190 M120,1040 L690,1380 M160,1140 L170,1230 L690,1545 M185,1100 L790,1440 M160,1140 L185,1100"/>
<path d="M500,860 C490,840 520,810 560,815 C600,820 650,840 670,870 C690,920 680,960 670,990 M510,920 C520,960 560,980 620,1000 L650,1010"/>
<path d="M545,518 L660,1020 L700,1100 L680,1370 M600,540 L700,900"/>
<path d="M600,245 C580,200 590,130 640,95 C670,82 695,95 700,110"/>
<path d="M600,245 C620,160 700,80 820,55 C900,45 960,60 990,90 C1020,70 1080,60 1120,80 C1150,65 1190,75 1200,100 C1250,130 1260,200 1220,250 L1200,300 L1245,520 L1205,580 L1230,690 L1290,610 L1400,685 L1525,1050 L1460,1230 C1390,1320 1320,1380 1310,1440 C1330,1500 1390,1540 1390,1580 C1385,1630 1350,1660 1300,1660 L1200,1640 L1050,1650 C1000,1665 950,1680 900,1650 L840,1590 C760,1560 700,1500 700,1440 L770,1240 C780,1200 760,1150 700,1110 L660,1090 C690,1050 700,1000 690,960 L560,525 C590,480 600,440 610,380 C620,330 630,290 600,245"/>
<path d="M700,330 C720,300 760,270 810,240 L950,150 L1075,195 L1160,500 L1140,570 L1230,730 L1360,750 L1470,1040 L1400,1210 C1350,1280 1310,1350 1310,1410"/>
<path d="M700,330 L690,570 L790,860 C820,900 850,920 880,930 L900,1000 L850,1080 C830,1150 820,1200 830,1260 L900,1520"/>
<path d="M740,590 C800,500 900,460 1070,460 M760,720 C820,620 950,560 1110,570 M860,900 C880,810 960,740 1060,720 C1130,715 1180,720 1200,730"/>
<ellipse cx="1190" cy="830" rx="55" ry="75" transform="rotate(20 1190 830)"/>
<ellipse cx="1190" cy="830" rx="30" ry="45" transform="rotate(20 1190 830)"/>
<ellipse cx="915" cy="1145" rx="55" ry="75" transform="rotate(20 915 1145)"/>
<ellipse cx="915" cy="1145" rx="30" ry="45" transform="rotate(20 915 1145)"/>
<ellipse cx="1145" cy="1360" rx="55" ry="75" transform="rotate(20 1145 1360)"/>
<ellipse cx="1145" cy="1360" rx="30" ry="45" transform="rotate(20 1145 1360)"/>
<ellipse cx="1145" cy="1510" rx="50" ry="70" transform="rotate(20 1145 1510)"/>
<ellipse cx="1145" cy="1510" rx="25" ry="40" transform="rotate(20 1145 1510)"/>
<path d="M960,790 L1130,870 M960,950 L1300,1165 M1270,960 L1410,1045 M980,1180 L1160,1290 M840,1290 L1090,1420 M900,1490 L1100,1580"/>
<ellipse cx="1170" cy="210" rx="30" ry="45" transform="rotate(20 1170 210)"/>
<ellipse cx="800" cy="1055" rx="30" ry="45" transform="rotate(20 800 1055)"/>
<ellipse cx="830" cy="1530" rx="30" ry="40" transform="rotate(20 830 1530)"/>
<ellipse cx="1300" cy="1580" rx="30" ry="40" transform="rotate(20 1300 1580)"/>

</g>

<!--rZ12.svg-->
<g class="l" transform="translate(420,1370) scale(0.085208)">
<path d="M240,75 C260,40 290,10 320,-20 M250,90 C320,120 450,130 550,110 C650,90 720,50 760,0"/>
<path d="M240,75 L250,230 C250,290 230,330 200,380 L250,405 L310,375"/>
<path d="M200,380 L380,860 C390,900 380,940 360,980 C330,1040 330,1110 350,1150 L420,1200 L460,1210 M300,380 L500,960 M350,390 L560,920"/>
<path d="M320,375 C600,390 850,300 950,200 C990,150 1000,100 1000,0"/>
<path d="M836,-236 C870,-150 920,-60 940,0 C960,100 1000,200 1040,250 C1080,330 1110,420 1100,530"/>
<path d="M560,920 C750,900 950,820 1050,650 C1100,560 1110,500 1100,450"/>
<path d="M710,510 L750,630 L830,600 C900,560 980,500 1040,420 C1070,370 1060,300 1040,250 M710,510 C800,480 900,430 960,370 C1000,330 1020,290 1020,250"/>
<path d="M980,920 C1040,870 1080,790 1080,720 C1080,690 1070,670 1060,660 M650,1070 C730,1060 820,1030 880,990"/>
<path d="M1100,530 C1200,550 1280,620 1300,700 L1540,1240 C1560,1300 1540,1380 1480,1430 L1300,1620 C1310,1670 1320,1730 1300,1790 C1280,1850 1240,1870 1180,1870 L700,1880"/>
<path d="M460,1210 L380,1330 L570,1830 C590,1870 630,1890 690,1890 M470,1340 L680,1860 M490,1350 L700,1850"/>
<path d="M490,1330 C600,1360 780,1340 880,1260 L1240,900 C1290,850 1310,790 1300,760"/>
<path d="M580,1490 C700,1510 850,1480 950,1400 L1340,1030 C1370,1000 1390,960 1390,920 M600,1560 C720,1580 870,1540 980,1460 L1380,1080 C1410,1040 1420,1000 1410,960 M630,1640 C750,1660 900,1620 1010,1540 L1420,1130 C1450,1090 1460,1050 1450,1010 M660,1720 C780,1740 930,1700 1040,1620 L1450,1210 C1480,1170 1490,1130 1480,1090 M690,1790 C810,1810 960,1770 1070,1690 L1470,1280 C1500,1250 1510,1210 1500,1170"/>
<path d="M700,1850 C800,1880 950,1860 1060,1780 L1300,1620"/>
<ellipse cx="535" cy="1085" rx="40" ry="70" transform="rotate(25 535 1085)"/>
<path d="M500,970 C560,950 620,970 640,1010 C650,1060 620,1120 590,1170 L480,1330"/>
<ellipse cx="1200" cy="1790" rx="40" ry="70" transform="rotate(25 1200 1790)"/>
</g>

<!--rZ13.svg-->
<defs><g id="b18" class="l">
<path d="M230,620 C240,450 330,330 450,260 C530,220 620,210 720,220 M230,620 C240,800 320,930 450,960 C530,970 600,940 650,880"/>
<path d="M330,780 C320,600 420,380 600,280 C680,240 760,230 800,250 C860,280 890,380 890,520"/>
<path d="M560,810 C500,780 490,700 520,620 C560,520 630,460 700,450 C750,450 790,480 810,510"/>
<path d="M870,530 L1340,790 M660,880 L1000,1056"/>
<path d="M660,840 C620,760 660,620 800,550 M820,930 C790,830 830,700 950,620 M950,1000 C930,880 980,760 1090,690 M1100,1056 C1100,940 1160,850 1250,790 M1250,780 C1330,780 1380,840 1390,920 C1395,1000 1370,1040 1340,1056"/>
</g>
</defs>
<use href="#b18" transform="translate(910,985) scale(0.042607)"/>
<use href="#b18" transform="translate(1054,1231.4) scale(0.042607)"/>
<g class="l" transform="translate(780,1385) scale(0.054777)">
<path d="M190,570 C170,480 180,380 240,280 C290,200 350,150 410,140 L490,140 L730,280 C770,310 790,360 790,430 M190,570 L430,720 C470,750 530,755 580,720"/>
<path d="M420,690 C400,600 410,480 470,390 C530,310 600,280 650,270 C710,270 760,320 780,390"/>
<ellipse cx="645" cy="535" rx="95" ry="150" transform="rotate(30 645 535)"/>
<path d="M790,440 L1490,850 M620,700 L1310,1080"/>
<ellipse cx="1410" cy="965" rx="90" ry="130" transform="rotate(30 1410 965)"/>
<path d="M640,690 C600,610 670,480 780,460 M755,752 C715,672 785,542 895,522 M870,814 C830,734 900,604 1010,584 M985,876 C945,796 1015,666 1125,646 M1100,938 C1060,858 1130,728 1240,708 M1215,1000 C1175,920 1245,790 1355,770"/>
<path d="M0,640 L190,570"/>
</g>
<g class="l" transform="translate(830,1745) scale(0.054777)">
<path d="M450,55 L340,55 C250,60 180,150 175,280 C175,420 250,560 340,570 L470,570 M250,150 L395,150 C370,230 370,350 390,440 L240,440"/>
<ellipse cx="650" cy="300" rx="200" ry="290"/>
<path d="M470,570 C400,500 380,400 385,300 C390,180 430,90 520,30"/>
<path d="M700,150 L1330,140 M650,430 L1340,410"/>
<ellipse cx="1350" cy="275" rx="90" ry="135"/>
<path d="M640,160 C590,220 590,380 660,430 M760,160 C710,220 710,380 780,425 M870,155 C820,220 820,380 890,420 M980,150 C930,220 930,380 1000,418 M1090,148 C1040,220 1040,380 1110,415 M1200,145 C1150,220 1150,380 1220,412"/>
</g>
<g class="l" transform="translate(810,1105) scale(0.048691)">
<path d="M300,200 C350,170 420,160 480,180 L570,240 M300,200 C200,280 130,400 110,510 C100,600 120,680 180,710 L280,760 M300,210 L460,300 L570,240 M120,510 L300,590 M300,590 L270,740 M460,300 C380,380 320,480 300,590"/>
<path d="M280,760 C300,860 380,920 460,900 C540,880 600,830 640,790 M460,300 C520,260 600,230 680,235 C760,245 810,320 820,420 L810,520"/>
<path d="M700,470 L1550,960 M520,760 L1200,1130"/>
<path d="M480,720 C450,640 480,520 570,470 C620,440 680,450 720,480"/>
<path d="M600,770 C560,690 640,550 750,530 M722,836 C682,756 762,616 872,596 M844,902 C804,822 884,682 994,662 M966,968 C926,888 1006,748 1116,728 M1088,1034 C1048,954 1128,814 1238,794 M1210,1100 C1170,1020 1250,880 1360,860 M1332,1166 C1292,1086 1372,946 1482,926"/>
<path d="M1500,950 C1560,990 1580,1060 1560,1130 M460,170 L510,0"/>
</g>

<!--rZ3.svg-->
<g class="l" transform="translate(870,640) scale(0.097383)">
<path d="M490,940 L950,490 C1000,470 1070,520 1100,600 C1105,620 1095,640 1080,650 L630,1100"/>
<ellipse cx="553" cy="1030" rx="62" ry="100" transform="rotate(-40 553 1030)"/>
<path d="M650,1160 L1115,710 C1165,690 1240,750 1265,825 C1270,845 1262,860 1250,870 L790,1330"/>
<ellipse cx="712" cy="1252" rx="62" ry="100" transform="rotate(-40 712 1252)"/>
<ellipse cx="1180" cy="400" rx="72" ry="118" transform="rotate(-40 1180 400)"/>
<path d="M1100,310 L1180,230 C1230,210 1300,260 1350,340 C1370,380 1365,400 1345,410 L1270,480"/>
<path d="M1030,200 L1090,170 L1150,290 M1030,200 L1080,300 M1100,150 L1140,100 L1200,210 M1100,150 L1150,245"/>
<path d="M1000,310 L1060,280 M1000,310 L1090,330"/>
<ellipse cx="1330" cy="652" rx="72" ry="115" transform="rotate(-40 1330 652)"/>
<path d="M1240,560 L1330,470 C1400,470 1480,560 1500,620 C1510,650 1500,670 1470,690 L1390,750"/>
<path d="M1150,570 L1210,540 M1150,570 L1250,590 M1200,490 L1230,540 M1260,470 L1290,520"/>
<ellipse cx="310" cy="1290" rx="72" ry="118" transform="rotate(-40 310 1290)"/>
<path d="M230,1190 L300,1110 C360,1110 440,1180 480,1260 C490,1290 480,1310 460,1320 L400,1370"/>
<path d="M160,1100 L210,1070 L265,1185 M160,1100 L210,1200 M230,1030 L270,1000 L320,1100 M230,1030 L280,1135"/>
<path d="M130,1210 L190,1180 M130,1210 L220,1230"/>
<ellipse cx="455" cy="1535" rx="72" ry="118" transform="rotate(-40 455 1535)"/>
<path d="M370,1440 L440,1370 C500,1370 580,1440 620,1510 C640,1550 630,1580 600,1600"/>
<path d="M280,1460 L340,1430 M280,1460 L370,1480 M330,1390 L360,1440 M400,1370 L420,1410"/>
</g>

<!--rZ4.svg-->
<g class="l" transform="translate(720,740) scale(0.097383)">
<path d="M140,190 C100,220 70,290 80,340 C90,390 130,430 200,430 M140,190 C180,170 240,190 280,220 C310,240 330,260 320,290"/>
<path d="M150,310 C150,260 190,220 230,220 C260,220 300,240 315,265 M140,340 C160,400 200,420 240,415"/>
<ellipse cx="210" cy="335" rx="22" ry="50" transform="rotate(-10 210 335)"/>
<path d="M260,290 L340,310 L360,305 L420,345 L440,340 L490,380 L510,375 L550,430 L610,530 L470,540 M230,400 L300,430 L330,470 L370,470 L420,510 L470,540"/>
<path d="M280,300 C260,330 260,380 280,410 M340,310 C310,340 310,400 340,430 M400,340 C380,370 380,420 400,460 M460,370 C440,400 440,450 460,490"/>
<path d="M655,550 L795,630"/>
<path d="M830,620 L1320,465 C1350,460 1370,490 1365,520 L1345,585 M830,620 C805,650 800,700 815,760 L850,870 L930,1370 C950,1405 990,1410 1015,1395 L1050,1345"/>
<ellipse cx="870" cy="690" rx="30" ry="45" transform="rotate(20 870 690)"/>
<ellipse cx="1075" cy="625" rx="28" ry="42" transform="rotate(20 1075 625)"/>
<ellipse cx="1290" cy="550" rx="28" ry="42" transform="rotate(20 1290 550)"/>
<ellipse cx="1005" cy="1320" rx="25" ry="42" transform="rotate(20 1005 1320)"/>
<path d="M1290,610 L920,750 L910,790 L960,940 M960,840 C1000,780 1100,700 1170,670 M1000,870 C1040,800 1160,700 1270,650"/>
<path d="M1060,880 C1060,950 1080,1100 1130,1280 C1150,1340 1200,1360 1260,1340 C1330,1300 1400,1250 1440,1200 L1643,1000"/>
<path d="M1380,640 C1340,700 1280,760 1240,800 C1180,860 1160,900 1180,940 C1200,960 1280,960 1340,920 L1500,820"/>
<path d="M1290,1190 C1250,1150 1250,1080 1300,1030 L1430,900 L1580,810"/>
<path d="M1040,1060 L1160,1270 M900,1250 L1020,1150"/>
<ellipse cx="630" cy="1055" rx="55" ry="110" transform="rotate(-15 630 1055)"/>
<path d="M640,950 C700,960 740,1020 750,1080 C760,1130 740,1170 700,1190 M690,940 C740,960 780,1020 790,1080 C795,1130 780,1160 760,1180 M720,920 L830,870 M790,1110 L840,1090"/>
<ellipse cx="960" cy="1030" rx="68" ry="95" transform="rotate(25 960 1030)"/>
<path d="M900,960 L860,1000 L870,1090 M820,900 L840,1000"/>
<path d="M30,1438 L610,1110"/>
</g>
<g class="l" transform="translate(820,760) scale(0.060864)">
<path d="M360,530 L470,420 C520,410 550,440 545,490 C540,540 520,600 470,640 L0,800"/>
<ellipse cx="410" cy="560" rx="42" ry="80" transform="rotate(25 410 560)"/>
<path d="M720,570 C650,580 600,610 570,650 L590,700 L330,950 C250,1030 230,1130 280,1190 C330,1220 450,1200 560,1150 L920,830 C940,800 940,770 920,740"/>
<path d="M720,570 L880,430 C890,400 900,370 920,350 L1000,300 C1050,290 1100,320 1150,380 C1200,440 1190,510 1160,560 L1140,590 L930,720 M880,430 C960,460 1020,520 1060,590 M920,350 C1000,380 1080,450 1130,560 M1000,320 C1060,350 1120,420 1160,500 M760,570 C820,600 870,660 910,720"/>
<path d="M860,950 L450,1320 C380,1390 350,1480 380,1560 C420,1620 520,1620 620,1590 C700,1560 760,1520 800,1480 L1080,1200 C1100,1170 1095,1130 1070,1100"/>
<path d="M900,940 L1040,800 C1050,760 1070,730 1100,710 L1160,680 C1210,670 1260,700 1310,770 C1350,830 1350,900 1320,940 L1300,960 L1080,1110 M1040,800 C1120,830 1170,890 1210,960 M1100,710 C1170,740 1230,810 1270,900 M1160,690 C1230,720 1290,790 1320,860 M860,960 C950,1000 1010,1050 1060,1110"/>
<path d="M620,1180 L900,920 M380,720 L0,970"/>
</g>

<!--rZ6.svg-->
<g class="l" transform="translate(900,1040) scale(0.13390)">
<path d="M520,610 L1075,155"/>
<path d="M1130,140 C1250,130 1400,230 1500,430 M1260,60 C1400,60 1550,170 1643,350"/>
<path d="M1500,430 L1643,370 M1190,745 L1600,745 L1643,730"/>
<path d="M720,680 L1340,390 L1400,460 C1410,475 1430,475 1440,470 L1500,440"/>
<path d="M460,760 C450,680 480,620 540,605 C600,600 650,630 690,670 L720,680"/>
<path d="M130,945 L650,650 M620,1040 L1190,740"/>
<path d="M800,660 C860,700 890,790 890,900 M850,630 C910,670 940,760 940,860 M1070,520 C1130,560 1150,650 1140,770 M1110,500 C1170,540 1200,640 1190,750"/>
<path d="M620,1050 C640,1080 680,1100 750,1090 L1350,820 L1470,875 L1810,684"/>
</g>

<!--rZ7.svg-->
<g class="l" transform="translate(880,1120) scale(0.073035)">
<path d="M510,950 C460,850 460,720 510,660 C560,620 620,610 650,625"/>
<path d="M570,920 C530,840 530,720 580,680 C620,650 680,660 720,700 C800,760 870,880 890,980 C900,1060 880,1110 820,1110 C740,1110 680,1070 640,1030"/>
<path d="M650,625 C760,660 860,780 900,900 C930,1000 920,1100 880,1150 C840,1180 760,1180 700,1150 C650,1120 610,1090 590,1060"/>
<path d="M630,600 C740,560 900,660 980,780 C1030,870 1020,1000 970,1100 L880,1160"/>
<path d="M740,545 C850,540 980,650 1020,780 C1040,850 1040,950 1060,1000 M960,410 C1080,420 1200,560 1240,700 C1260,800 1250,880 1220,940 L1080,1020 M1120,330 C1240,350 1360,480 1400,600 C1420,700 1410,770 1400,800 M1300,220 C1420,250 1540,380 1580,500 C1600,600 1590,660 1560,700 L1400,800"/>
<path d="M1420,840 C1480,880 1560,920 1643,920"/>
<path d="M580,1060 L590,1130 L760,1430 L860,1430 L840,1300 L800,1200 M820,1200 L860,1360 L910,1360 L880,1170 M940,1100 L950,1400 L1090,1420 L1080,1010 L1230,940 L1260,820 C1320,850 1360,920 1360,1000 L1350,1250 L1150,1380 L1100,1350 M1100,1100 L1300,1070 L1310,1280 L1160,1370 Z M1170,1180 L1240,1150 L1250,1240 L1180,1270 Z"/>
<path d="M110,580 L430,770 M40,1280 L730,910"/>
</g>

<!--rZ8.svg-->
<g class="l" transform="translate(420,960) scale(0.12173)">
<path d="M90,611 L450,301 Q495,262 544,296 L981,596 Q1030,630 991,676 L729,989 Q690,1035 638,1004 L97,681 Q45,650 90,611"/>
<path d="M143,616 L467,354 Q510,320 556,350 L929,590 Q975,620 940,662 L715,933 Q680,975 632,948 L148,677 Q100,650 143,616"/>
<path d="M200,611 L485,404 Q525,375 568,400 L877,580 Q920,605 889,644 L696,881 Q665,920 621,896 L204,664 Q160,640 200,611"/>
<path d="M248,606 L507,444 Q545,420 585,441 L830,569 Q870,590 842,625 L678,835 Q650,870 610,848 L250,652 Q210,630 248,606"/>
<path d="M280,860 C290,920 310,970 360,1000 L700,1200 C740,1210 770,1200 790,1180 L990,990 C1010,960 1010,900 990,850 L960,780"/>
<path d="M330,990 C360,1030 420,1060 480,1090 M900,1050 C950,1020 990,980 1000,930"/>
<ellipse cx="550" cy="490" rx="105" ry="78"/>
<ellipse cx="548" cy="495" rx="72" ry="55"/>
<path d="M450,560 C470,630 560,650 640,630 C690,610 710,580 700,530 M460,610 C490,680 600,700 680,670 C720,650 740,610 730,570 M510,680 C550,740 650,760 700,730 C730,700 740,660 730,620"/>
<path d="M350,290 C380,260 410,250 420,250 M360,330 C390,300 420,290 440,290 M380,380 C410,350 440,340 460,340 M430,440 C400,460 400,480 420,500 M360,520 C330,560 350,600 420,600 L450,600"/>
<path d="M180,620 L560,880 M200,650 L690,900"/>
</g>

<!--rZ9.svg-->
<g class="l" transform="translate(420,1110) scale(0.12173)">
<path d="M60,290 C40,400 60,520 130,680 M60,290 C100,160 220,60 350,50 C400,50 450,70 500,110"/>
<ellipse cx="468" cy="235" rx="82" ry="125" transform="rotate(25 468 235)"/>
<ellipse cx="452" cy="245" rx="55" ry="90" transform="rotate(25 452 245)"/>
<path d="M330,245 C280,270 240,320 230,400 C230,470 270,520 300,560 M290,300 L380,340 M245,380 C255,350 290,350 300,380 C305,420 290,470 270,490"/>
<ellipse cx="232" cy="652" rx="125" ry="58" transform="rotate(-28 232 652)"/>
<path d="M470,235 L610,310"/>
<path d="M660,420 C620,380 640,300 700,270 C740,255 780,275 770,310 M670,400 C660,360 680,310 720,290"/>
<path d="M460,570 C450,540 470,520 500,530 L610,580 M470,580 L610,650"/>
<path d="M645,491 L910,229 Q960,180 1022,212 L1458,438 Q1520,470 1475,524 L1205,851 Q1160,905 1101,867 L654,578 Q595,540 645,491"/>
<path d="M679,494 L921,266 Q965,225 1018,253 L1412,462 Q1465,490 1426,536 L1194,809 Q1155,855 1104,824 L686,566 Q635,535 679,494"/>
<path d="M610,640 L690,840 C710,890 760,920 800,940 L1200,1150 C1240,1165 1300,1160 1330,1120 L1590,880 C1620,850 1625,790 1610,740 L1520,520"/>
<path d="M980,560 C990,520 1020,490 1060,490 L1350,650 M1020,620 C1030,590 1070,580 1100,590 L1310,690 M1040,660 C1050,630 1080,620 1110,630 L1290,720"/>
<path d="M830,390 C820,360 860,340 890,350 L1060,750 C1060,780 1030,790 1000,780 Z M835,410 C860,420 890,410 905,395 M860,470 C880,480 910,470 925,455 M885,540 C905,550 935,540 950,525 M910,600 C930,610 960,600 975,585"/>
<path d="M820,690 L900,600 M860,700 L930,630 M900,720 L960,650"/>
<path d="M950,300 L995,420"/>
<path d="M850,430 C800,440 790,500 820,530 C840,540 860,540 870,530"/>
<path d="M860,940 L890,880 M910,885 L950,900 M975,912 L1015,930 M1040,942 L1080,960 M1105,972 L1130,985"/>
<ellipse cx="1165" cy="1015" rx="35" ry="42" style="stroke-dasharray:20 15"/>
<path d="M1190,940 L1260,1110 M1230,1060 L1280,1080"/>
<path d="M1030,1060 C1020,1090 1040,1110 1080,1110 L1150,1100"/>
<path d="M1400,1130 L1520,1200"/>

</g>

</svg>
</body></html>
